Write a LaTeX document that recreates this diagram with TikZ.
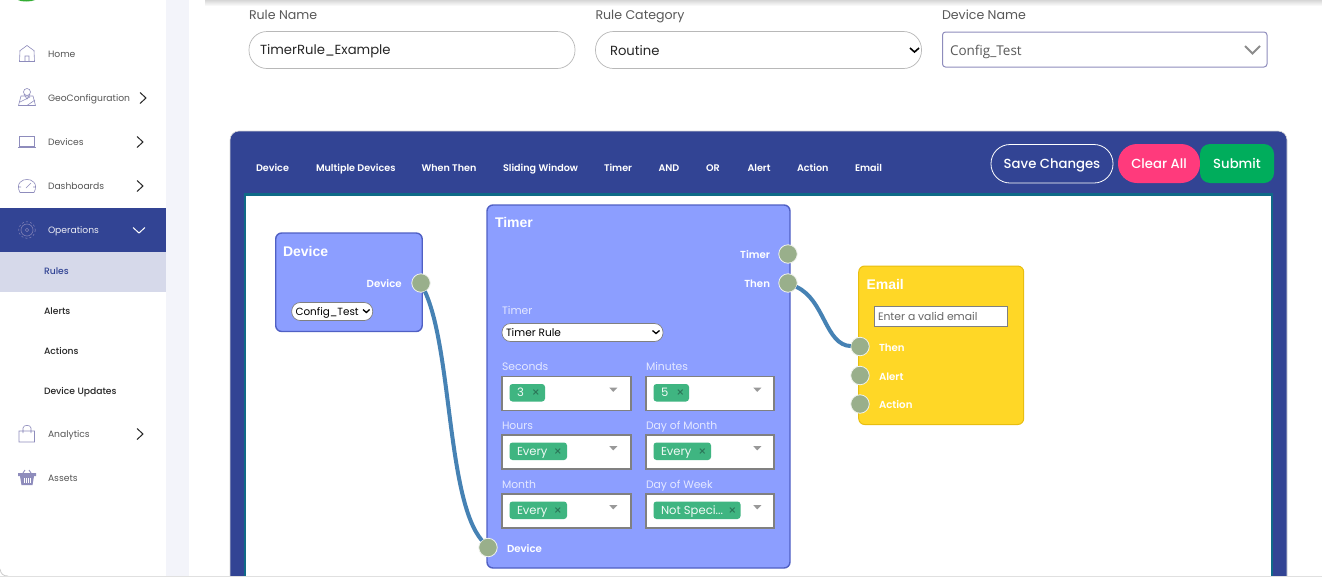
\documentclass[tikz,border=0pt]{standalone}
\usepackage{fontspec}
\setmainfont{Poppins}
\newfontfamily\arialf{Liberation Sans}
\newfontfamily\popm{Poppins Medium}
\newfontfamily\popsb{Poppins SemiBold}
\newfontfamily\opensans{Open Sans}
\newfontfamily\dejav{DejaVu Sans}
\usetikzlibrary{shapes.geometric}
\definecolor{navy}{HTML}{324494}
\definecolor{subband}{HTML}{D6D9EA}
\definecolor{pagebg}{HTML}{F3F4FA}
\definecolor{icon}{HTML}{8E8CBC}
\definecolor{menutext}{HTML}{555555}
\definecolor{blockfill}{HTML}{8C9EFF}
\definecolor{blockline}{HTML}{5060C4}
\definecolor{emailfill}{HTML}{FFD726}
\definecolor{emailline}{HTML}{E8BE10}
\definecolor{portfill}{HTML}{99AF8B}
\definecolor{wire}{HTML}{4682B4}
\definecolor{pill}{HTML}{3FB581}
\definecolor{pillx}{HTML}{2B7558}
\definecolor{teal}{HTML}{0F6A87}
\definecolor{clearc}{HTML}{FF3A7C}
\definecolor{submitc}{HTML}{00AD5C}
\definecolor{lbl}{HTML}{E4E8FF}
\tikzset{
 box/.style={anchor=north west,inner sep=0pt,outer sep=0pt},
 txt/.style={anchor=mid west,inner sep=0pt,outer sep=0pt,yshift=-1pt},
 rtxt/.style={anchor=mid east,inner sep=0pt,outer sep=0pt,yshift=-1pt},
 ctxt/.style={anchor=mid,inner sep=0pt,outer sep=0pt},
 menu/.style={txt,text=menutext,font=\fontsize{9.2}{10}\selectfont},
 sub/.style={txt,text=black!85,font=\popm\fontsize{9.2}{10}\selectfont},
 tool/.style={txt,text=white,font=\popsb\fontsize{9.6}{10}\selectfont},
 flabel/.style={txt,yshift=-1pt,text=black!65,font=\fontsize{12.6}{14}\selectfont},
 block/.style={box,fill=blockfill,draw=blockline,line width=1.4pt,rounded corners=6pt},
 portn/.style={circle,fill=portfill,draw=white!85!portfill,line width=0.8pt,minimum size=18.5pt,inner sep=0pt,outer sep=0pt},
 wireline/.style={draw=wire,line width=4pt},
 title/.style={txt,yshift=-2pt,text=white,font=\arialf\bfseries\fontsize{14}{16}\selectfont},
 plabel/.style={yshift=-1pt,text=white,font=\popsb\fontsize{10.2}{12}\selectfont},
 slabel/.style={txt,yshift=-1pt,text=lbl,font=\fontsize{10.8}{12}\selectfont},
 selbox/.style={box,fill=white,draw=black!50,line width=1.4pt},
 pillbox/.style={box,fill=pill,rounded corners=3pt},
 pilltext/.style={txt,text=white!92!pill,font=\fontsize{11.6}{12}\selectfont},
 pillxs/.style={ctxt,text=pillx,font=\dejav\bfseries\fontsize{9.6}{10}\selectfont},
 tri/.style={fill=black!40},
 ico/.style={draw=icon,line width=0.6pt},
 chev/.style={draw=black!85,line width=1pt},
 btn/.style={ctxt,yshift=-2.5pt,text=white,font=\popm\fontsize{13.2}{15}\selectfont},
}
\newcommand{\cron}[8]{% name x y w labeltext pillwidth pilltext xpos
 \node[slabel] (#1l) at (#2,#3-10.5) {#5};
 \node[selbox,minimum width=#4pt,minimum height=34pt] (#1) at (#2,#3) {};
 \node[pillbox,minimum width=#6pt,minimum height=17.5pt] (#1p) at (#2+7.5,#3+7.5) {};
 \node[pilltext] (#1t) at (#2+15,#3+16.5) {#7};
 \node[pillxs] (#1x) at (#8,#3+16.3) {×};
 \fill[tri] (#2+107.3,#3+11.2) -- (#2+115.3,#3+11.2) -- (#2+111.3,#3+15.4) -- cycle;
}
\begin{document}
\begin{tikzpicture}[x=1pt,y=-1pt]
\useasboundingbox (0,0) rectangle (1322,579);
% page
\fill[white] (0,0) rectangle (1322,579);
\shade[top color=black!16,bottom color=white] (205,0) rectangle (1322,6);
\fill[pagebg] (166,0) rectangle (189,576);
\fill[black!12] (0,576) rectangle (1322,578);
\fill[pagebg] (166,0) rectangle (189,576);
\fill[white] (0,565) -- (0,579) -- (12,579) -- cycle;
\draw[black!20,line width=0.8pt] (0,569) .. controls (1,574) and (3,576) .. (8,576);
% logo remnant
\fill[green!60!black!80] (18,0) .. controls (21,2) and (31,2) .. (35,0) -- cycle;
% sidebar
\fill[navy] (0,208) rectangle (166,252);
\fill[subband] (0,252) rectangle (166,292);
\node[menu] (mHome) at (48,54) {Home};
\node[menu] (mGeo) at (48,98) {GeoConfiguration};
\node[menu] (mDev) at (48,142) {Devices};
\node[menu] (mDash) at (48,186) {Dashboards};
\node[menu,text=white!90!navy] (mOps) at (48,230) {Operations};
\node[sub,text=navy] (mRules) at (44,271) {Rules};
\node[sub] (mAlerts) at (44,311) {Alerts};
\node[sub] (mActions) at (44,351) {Actions};
\node[sub] (mUpd) at (44,391) {Device Updates};
\node[menu] (mAna) at (48,434) {Analytics};
\node[menu] (mAss) at (48,478) {Assets};
% chevrons
\draw[chev] (140,92.5) -- (146,98) -- (140,103.5);
\draw[chev] (137,136.5) -- (143,142) -- (137,147.5);
\draw[chev] (137,180.5) -- (143,186) -- (137,191.5);
\draw[chev] (137,428.5) -- (143,434) -- (137,439.5);
\draw[chev,draw=white] (133,227.5) -- (139,233) -- (145,227.5);
% icons
\draw[ico] (19.5,51) -- (27,45.5) -- (34.5,51) (20,50.5) -- (19.5,61.5) -- (34.5,61.5) -- (34,50.5) (25,61.5) -- (25,56) -- (29,56) -- (29,61.5);
\draw[ico] (21,96) -- (18.5,105.5) -- (35.5,105.5) -- (33,96) -- cycle (20,102) -- (30,97) (27,105.5) -- (35,100);
\draw[ico,fill=white] (27,92) circle (3.5);
\draw[ico] (24,94) -- (27,99) -- (30,94);
\draw[ico] (19,136.5) rectangle (34.5,146) (18,146.8) -- (35.5,146.8);
\draw[ico] (20,192.5) .. controls (15,183) and (23,179) .. (27,179.5) .. controls (31,179) and (39,183) .. (34,192.5) -- cycle (26,188) -- (31,183) (19,187) -- (21,187) (33,187) -- (35,187);
\draw[ico,draw=icon!80!navy] (27,230) circle (1.8);
\draw[ico,draw=icon!80!navy] (27,230) circle (6);
\draw[ico,draw=icon!80!navy,dash pattern=on 2pt off 2.2pt] (27,230) circle (8.3);
\draw[ico] (19,431) rectangle (34.5,442) (23,433) -- (23,428) .. controls (23,424.5) and (31,424.5) .. (31,428) -- (31,433);
\fill[icon] (18,473) rectangle (36,476) (20,476) -- (34,476) -- (32.5,485) -- (21.5,485) -- cycle;
\draw[white,line width=0.5pt] (24,478) -- (24,483) (26,478) -- (26,483) (28,478) -- (28,483) (30,478) -- (30,483);
\draw[ico,line width=0.9pt] (23,473) -- (25,470) (31,473) -- (29,470);
% top form
\node[flabel] (lRule) at (249,15) {Rule Name};
\node[flabel] (lCat) at (595.5,15) {Rule Category};
\node[flabel] (lDev) at (942,15) {Device Name};
\node[box,draw=black!28,line width=0.7pt,rounded corners=18pt,minimum width=326pt,minimum height=37pt,fill=white] (fRule) at (249,31.5) {};
\node[box,draw=black!28,line width=0.7pt,rounded corners=18pt,minimum width=326pt,minimum height=37pt,fill=white] (fCat) at (595.5,31.5) {};
\node[box,draw=icon,line width=1pt,rounded corners=3pt,minimum width=324.5pt,minimum height=35pt,fill=white] (fDev) at (942.5,32) {};
\node[txt,yshift=-1pt,text=black!85,font=\fontsize{13.2}{15}\selectfont] (vRule) at (260,49.5) {TimerRule\_Example};
\node[txt,yshift=-1pt,text=black!85,font=\fontsize{13.2}{15}\selectfont] (vCat) at (610,50.5) {Routine};
\node[txt,yshift=-2pt,text=black!65,font=\opensans\fontsize{13.5}{16}\selectfont] (vDev) at (950,50) {Config\_Test};
\draw[black,line width=1.6pt] (910,48) -- (914.5,52) -- (919,48);
\draw[black!45,line width=1.8pt] (1245,46) -- (1252.5,53.5) -- (1260,46);
% panel
\node[box,fill=navy,draw=black!15,line width=0.6pt,rounded corners=9pt,minimum width=1057pt,minimum height=460pt] (panel) at (230,131) {};
\fill[white] (245,194) rectangle (1272,579);
\draw[teal,line width=2.2pt] (245,579) -- (245,194.5) -- (1272,194.5) -- (1272,579);
\fill[white] (0,577) rectangle (1322,600);
\fill[black!12] (0,576) rectangle (1322,577);
% toolbar
\node[tool] (t1) at (256,168) {Device};
\node[tool] (t2) at (316,168) {Multiple Devices};
\node[tool] (t3) at (421.5,168) {When Then};
\node[tool] (t4) at (503,168) {Sliding Window};
\node[tool] (t5) at (604,168) {Timer};
\node[tool] (t6) at (658.5,168) {AND};
\node[tool] (t7) at (706,168) {OR};
\node[tool] (t8) at (747.5,168) {Alert};
\node[tool] (t9) at (797,168) {Action};
\node[tool] (t10) at (855,168) {Email};
\node[box,draw=white,line width=0.8pt,rounded corners=19pt,minimum width=122pt,minimum height=38.5pt] (bSave) at (991,144.5) {};
\node[box,fill=clearc,rounded corners=19pt,minimum width=82pt,minimum height=39pt] (bClear) at (1118,144) {};
\node[box,fill=submitc,rounded corners=10pt,minimum width=74pt,minimum height=39pt] (bSubmit) at (1200,144) {};
\node[btn] at (bSave) {Save Changes};
\node[btn] at (bClear) {Clear All};
\node[btn] at (bSubmit) {Submit};
% device block
\node[block,minimum width=146.5pt,minimum height=98.5pt] (devB) at (275.7,233) {};
\node[title] (devT) at (283,251) {Device};
\node[rtxt,plabel] (devL) at (401.7,283) {Device};
\node[box,fill=white,draw=black!50,line width=0.7pt,rounded corners=8.5pt,minimum width=81pt,minimum height=18pt] (devS) at (291.7,302.5) {};
\node[txt,yshift=-1pt,text=black,font=\fontsize{10.4}{12}\selectfont] (devV) at (295.5,311) {Config\_Test};
\draw[black,line width=1.3pt] (363,309.5) -- (366.3,312.5) -- (369.6,309.5);
% timer block
\node[block,minimum width=303pt,minimum height=363pt] (timB) at (487,205) {};
\node[title] (timT) at (495,222) {Timer};
\node[rtxt,plabel] (timL1) at (770,254) {Timer};
\node[rtxt,plabel] (timL2) at (770,283) {Then};
\node[slabel] (timL3) at (502,310) {Timer};
\node[box,fill=white,draw=black!50,line width=0.7pt,rounded corners=8.5pt,minimum width=161pt,minimum height=18pt] (timS) at (502,323.5) {};
\node[txt,yshift=-1pt,text=black,font=\fontsize{10.6}{12}\selectfont] (timV) at (506,332) {Timer Rule};
\draw[black,line width=1.3pt] (652.5,330.5) -- (656,333.5) -- (659.5,330.5);
\cron{cS}{502}{376.5}{129}{Seconds}{35.5}{3}{536}
\cron{cM}{646}{376.5}{128}{Minutes}{35.5}{5}{680.5}
\cron{cH}{502}{435}{129}{Hours}{57.5}{Every}{558}
\cron{cD}{646}{435}{128}{Day of Month}{57.5}{Every}{702.5}
\cron{cN}{502}{494}{129}{Month}{57.5}{Every}{558}
\cron{cW}{646}{494}{128}{Day of Week}{87}{Not Speci...}{732.5}
\node[txt,plabel] (timL4) at (507,548) {Device};
% email block
\node[box,fill=emailfill,draw=emailline,line width=1pt,rounded corners=6pt,minimum width=165pt,minimum height=158.5pt] (emB) at (858.7,266) {};
\node[title] (emT) at (866.5,284) {Email};
\node[box,fill=white,draw=black!50,line width=0.7pt,minimum width=133pt,minimum height=20pt] (emI) at (874.5,306.5) {};
\node[txt,text=black!60,font=\fontsize{10.8}{12}\selectfont] (emP) at (878,316.5) {Enter a valid email};
\node[txt,plabel] (emL1) at (879,347) {Then};
\node[txt,plabel] (emL2) at (879,375.5) {Alert};
\node[txt,plabel] (emL3) at (879,404) {Action};
% ports
\node[portn] (pDevOut) at (421,283) {};
\node[portn] (pTimer) at (788,254) {};
\node[portn] (pThen) at (788,283) {};
\node[portn] (pDevIn) at (488,547.5) {};
\node[portn] (pE1) at (860,346.5) {};
\node[portn] (pE2) at (860,375.5) {};
\node[portn] (pE3) at (860,404) {};
% connectors
\draw[wireline] (pDevOut) .. controls (452,350) and (447,500) .. (pDevIn);
\draw[wireline] (pThen) .. controls (825,300) and (825,345) .. (pE1);
\end{tikzpicture}
\end{document}
